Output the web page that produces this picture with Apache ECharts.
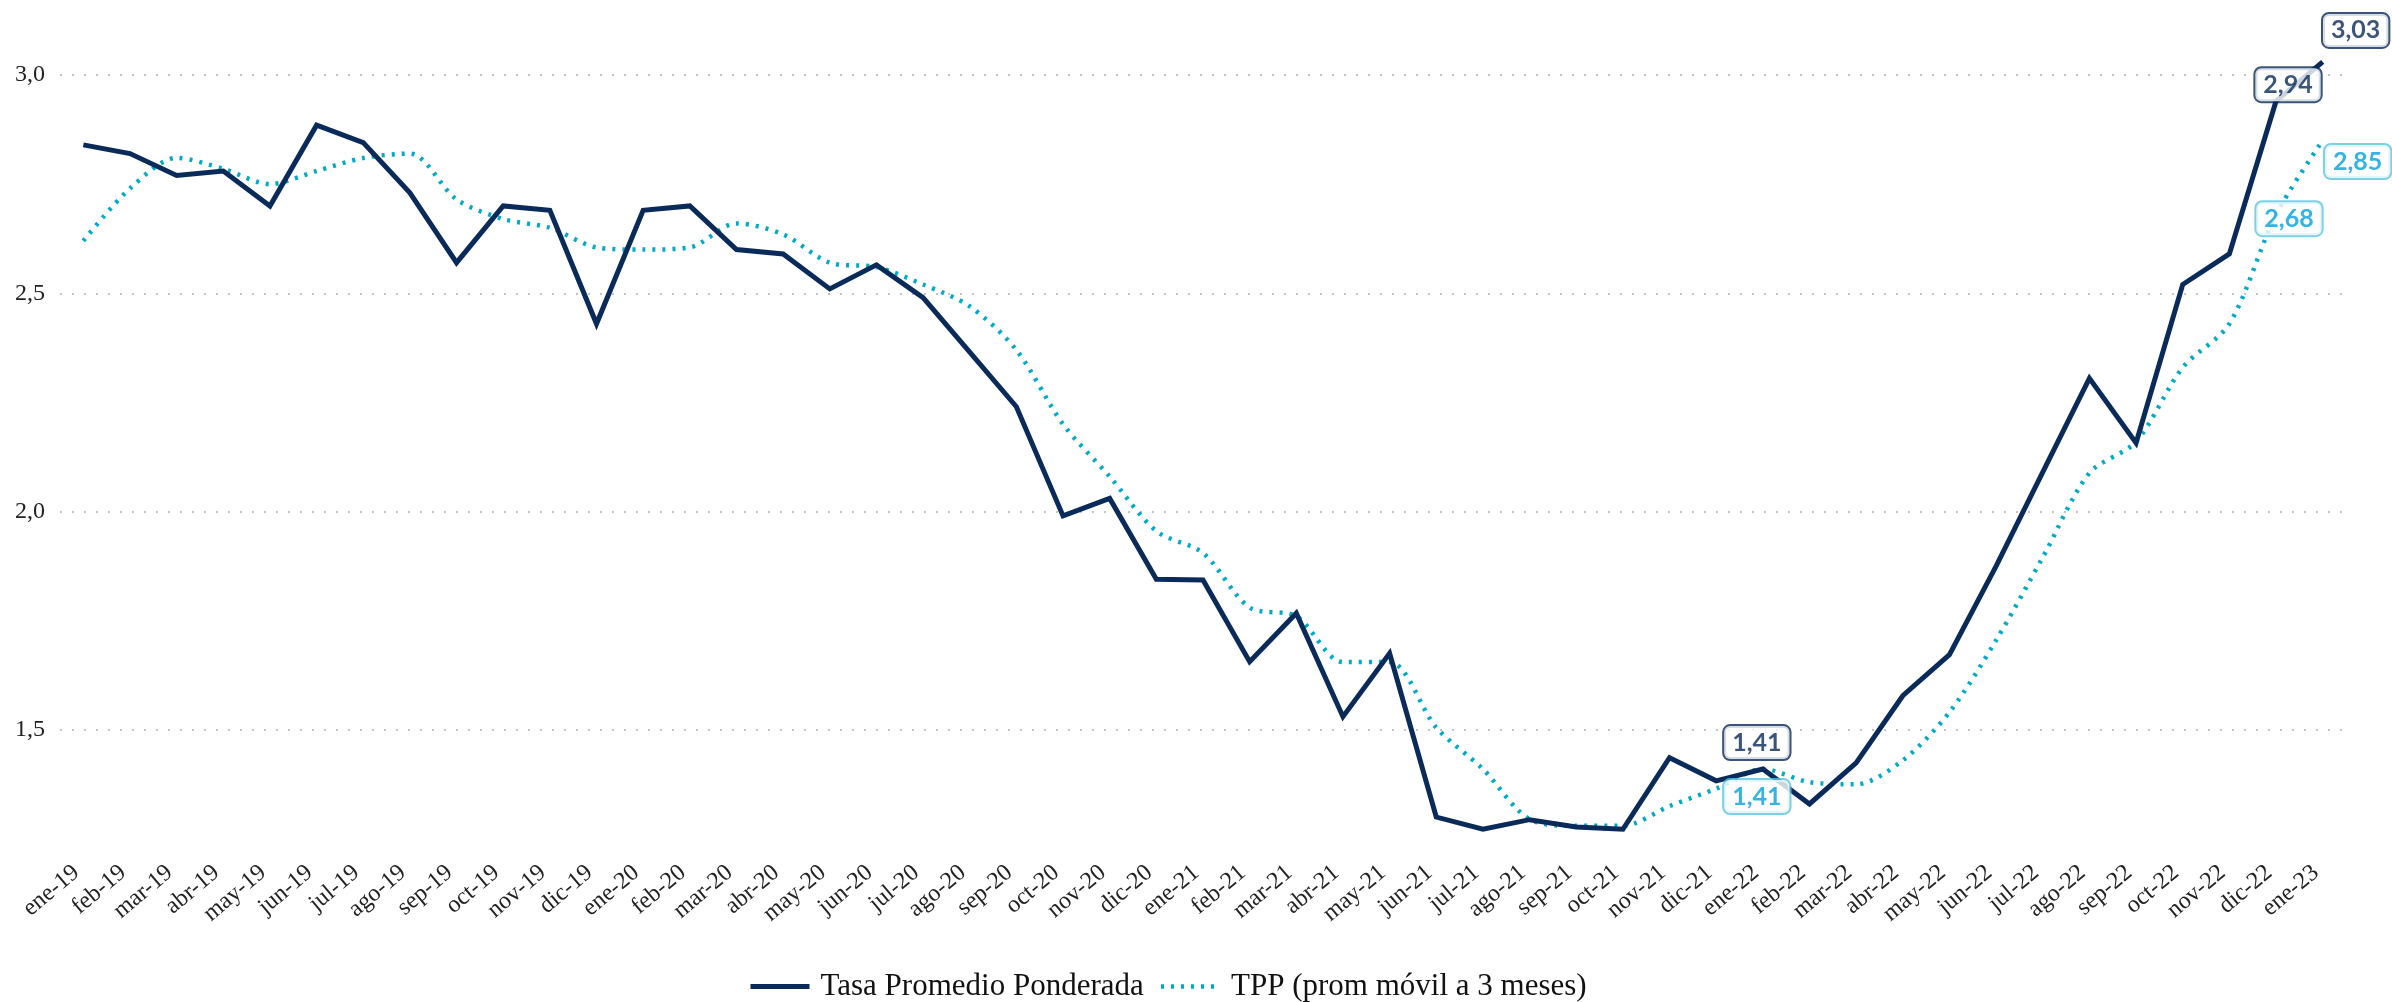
<!DOCTYPE html>
<html>
<head>
<meta charset="utf-8">
<title>Tasa Promedio Ponderada</title>
<script src="https://cdn.jsdelivr.net/npm/echarts@6/dist/echarts.min.js"></script>
<style>
  html, body { margin: 0; padding: 0; background: #fff; }
  #main { width: 2392px; height: 1002px; }
</style>
</head>
<body>
<div id="main"></div>
<script>
// meses (eje x)
var months = [
  'ene-19','feb-19','mar-19','abr-19','may-19','jun-19','jul-19','ago-19','sep-19','oct-19','nov-19','dic-19',
  'ene-20','feb-20','mar-20','abr-20','may-20','jun-20','jul-20','ago-20','sep-20','oct-20','nov-20','dic-20',
  'ene-21','feb-21','mar-21','abr-21','may-21','jun-21','jul-21','ago-21','sep-21','oct-21','nov-21','dic-21',
  'ene-22','feb-22','mar-22','abr-22','may-22','jun-22','jul-22','ago-22','sep-22','oct-22','nov-22','dic-22',
  'ene-23'
];
// Tasa Promedio Ponderada
var tasa = [
  2.84, 2.82, 2.77, 2.78, 2.70, 2.885, 2.845, 2.73, 2.57, 2.70, 2.69, 2.43,
  2.69, 2.70, 2.60, 2.59, 2.51, 2.565, 2.49, 2.365, 2.24, 1.99, 2.03, 1.845,
  1.843, 1.656, 1.767, 1.53, 1.675, 1.30, 1.272, 1.294, 1.277, 1.272, 1.436, 1.383,
  1.41, 1.33, 1.424, 1.578, 1.672, 1.875, 2.09, 2.305, 2.157, 2.52, 2.59, 2.94,
  3.03
];
// TPP (prom movil a 3 meses)
var tpp = [
  2.62, 2.74, 2.81, 2.785, 2.75, 2.78, 2.81, 2.82, 2.715, 2.67, 2.65, 2.605,
  2.60, 2.605, 2.66, 2.635, 2.57, 2.56, 2.52, 2.47, 2.37, 2.20, 2.08, 1.955,
  1.905, 1.78, 1.76, 1.655, 1.655, 1.505, 1.41, 1.295, 1.28, 1.28, 1.325, 1.365,
  1.41, 1.38, 1.375, 1.43, 1.54, 1.705, 1.895, 2.088, 2.16, 2.33, 2.43, 2.68,
  2.85
];
var yTicks = [1.5, 2.0, 2.5, 3.0];
// indices con etiqueta
var tasaLabelIdx = [36, 47, 48];
var tppLabelIdx = [36, 47, 48];

var navy = '#0a2b59';
var cyan = '#00aac8';
var serif = '"Liberation Serif", "Times New Roman", serif';

function fmt(v) {
  return v.toFixed(2).replace('.', ',');
}

function boxLabel(color, border, pos, dist, off) {
  return {
    show: true,
    position: pos,
    distance: dist,
    offset: off,
    formatter: function (p) { return fmt(p.value[1]); },
    fontFamily: 'Lato, "Open Sans", sans-serif',
    fontWeight: 'bold',
    fontSize: 25,
    color: color,
    backgroundColor: '#fff',
    borderColor: border,
    borderWidth: 2,
    borderRadius: 6,
    padding: [4, 8, 4, 8]
  };
}

// posicion de cada caja respecto a su punto
var tasaLabelCfg = {
  36: boxLabel(navy, navy, 'top', 10, [-6, 0]),
  47: boxLabel(navy, navy, 'top', 0, [12, 0]),
  48: boxLabel(navy, navy, 'top', 15, [33, 0])
};
var tppLabelCfg = {
  36: boxLabel('#00a0e0', '#5cc6de', 'bottom', 11, [-6, 0]),
  47: boxLabel('#00a0e0', '#5cc6de', 'inside', 0, [13, 4]),
  48: boxLabel('#00a0e0', '#5cc6de', 'inside', 0, [35, 21])
};

function labelPoints(values, idxs, cfg) {
  return idxs.map(function (i) {
    return { value: [i, values[i]], label: cfg[i] };
  });
}

var myChart = echarts.init(document.getElementById('main'));

var option = {
  backgroundColor: '#fff',
  animation: false,
  grid: { left: 60, right: 46, top: 75, bottom: 54 },
  legend: {
    data: ['Tasa Promedio Ponderada', 'TPP (prom móvil a 3 meses)'],
    left: 743,
    top: 966,
    itemWidth: 59,
    itemHeight: 14,
    itemGap: 15,
    itemStyle: { opacity: 0 },   // sin marcador, solo la linea
    lineStyle: { width: 'inherit' },
    textStyle: {
      fontFamily: serif,
      fontSize: 31,
      color: '#111',
      padding: [0, 0, 0, 6]
    }
  },
  xAxis: {
    type: 'category',
    data: months,
    boundaryGap: true,
    offset: -88,
    axisLine: { show: false },
    axisTick: { show: false },
    axisLabel: {
      interval: 0,
      rotate: 40,
      margin: 4,
      padding: [0, 9, 0, 0],
      fontFamily: serif,
      fontSize: 24,
      color: '#222'
    }
  },
  yAxis: {
    type: 'value',
    min: 1,
    max: 3,
    interval: 0.5,
    axisLine: { show: false },
    axisTick: { show: false },
    axisLabel: {
      margin: 15,
      fontFamily: serif,
      fontSize: 24,
      color: '#222',
      formatter: function (v) {
        return yTicks.indexOf(v) >= 0 ? v.toFixed(1).replace('.', ',') : '';
      }
    },
    splitLine: {
      show: true,
      showMinLine: false,
      lineStyle: { color: '#c4c4c4', type: [2, 10], width: 2 }
    }
  },
  series: [
    {
      name: 'Tasa Promedio Ponderada',
      type: 'line',
      data: tasa,
      symbol: 'none',
      clip: false,
      lineStyle: { color: navy, width: 5, join: 'miter' },
      itemStyle: { color: navy },
      z: 3
    },
    {
      name: 'TPP (prom móvil a 3 meses)',
      type: 'line',
      data: tpp,
      symbol: 'none',
      smooth: 0.3,
      clip: false,
      lineStyle: { color: cyan, width: 4.5, type: [3, 7] },
      itemStyle: { color: cyan },
      z: 2
    },
    {
      // etiquetas de la serie principal
      type: 'scatter',
      data: labelPoints(tasa, tasaLabelIdx, tasaLabelCfg),
      symbolSize: 0,
      clip: false,
      silent: true,
      z: 6
    },
    {
      type: 'scatter',
      data: labelPoints(tpp, tppLabelIdx, tppLabelCfg),
      symbolSize: 0,
      clip: false,
      silent: true,
      z: 6
    }
  ]
};

myChart.setOption(option);
</script>
</body>
</html>
